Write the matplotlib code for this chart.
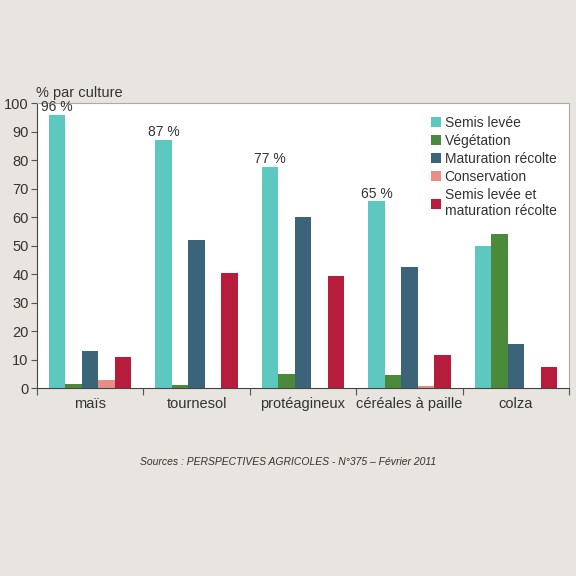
import matplotlib
matplotlib.use("Agg")
import matplotlib.pyplot as plt
import numpy as np

plt.rcParams["font.family"] = ["Liberation Sans Narrow", "Liberation Sans", "DejaVu Sans"]

cultures = ["maïs", "tournesol", "protéagineux", "céréales à paille", "colza"]
series = ["Semis levée", "Végétation", "Maturation récolte", "Conservation",
          "Semis levée et\nmaturation récolte"]
semis = [96, 87, 77.5, 65.5, 50]
vegetation = [1.5, 1.2, 5, 4.5, 54]
maturation = [13, 52, 60, 42.5, 15.5]
conservation = [3, 0, 0, 0.7, 0]
semis_maturation = [11, 40.5, 39.5, 11.5, 7.5]
peak_labels = ["96 %", "87 %", "77 %", "65 %", None]
colors = ["#5cc8c0", "#4a8a3a", "#3b6478", "#e88c88", "#b81c3c"]

BG = "#e8e4df"
fig = plt.figure(figsize=(5.76, 5.76), dpi=100, facecolor=BG)
ax = fig.add_axes([0.064, 0.326, 0.924, 0.495])
ax.set_facecolor("white")

x = np.arange(len(cultures))
w = 0.155
data = [semis, vegetation, maturation, conservation, semis_maturation]
for i, (vals, c, name) in enumerate(zip(data, colors, series)):
    ax.bar(x + (i - 2) * w, vals, w, color=c, label=name, linewidth=0)

for xi, v, lab in zip(x, semis, peak_labels):
    if lab:
        ax.text(xi - 2 * w, v + 0.3, lab, ha="center", va="bottom", fontsize=10, color="#333333")

ax.set_xlim(-0.5, 4.5)
ax.set_ylim(0, 100)
ax.set_yticks(range(0, 101, 10))
ax.set_xticks(np.arange(-0.5, 5, 1))
ax.set_xticklabels([])
ax.set_xticks(x, minor=True)
ax.set_xticklabels(cultures, minor=True, fontsize=10.5, color="#333333")
ax.tick_params(axis="x", which="minor", length=0, pad=6)
ax.tick_params(axis="x", which="major", length=5, color="#555555")
ax.tick_params(axis="y", length=4, pad=2, labelsize=10.5, labelcolor="#333333", color="#555555")
for s in ["top", "right"]:
    ax.spines[s].set_color("#aaaaaa")
    ax.spines[s].set_linewidth(0.8)
for s in ["left", "bottom"]:
    ax.spines[s].set_color("#444444")

fig.text(0.062, 0.826, "% par culture", fontsize=10.5, color="#333333", ha="left", va="bottom")

leg = ax.legend(loc="upper right", frameon=False, fontsize=10, handlelength=0.7,
                handleheight=0.7, handletextpad=0.3, labelspacing=0.3,
                borderaxespad=0.5)
for t in leg.get_texts():
    t.set_color("#333333")

fig.text(0.5, 0.193, "Sources : PERSPECTIVES AGRICOLES - N°375 – Février 2011",
         fontsize=7.5, style="italic", ha="center", color="#333333")

fig.savefig("out.png", dpi=100, facecolor=BG)
